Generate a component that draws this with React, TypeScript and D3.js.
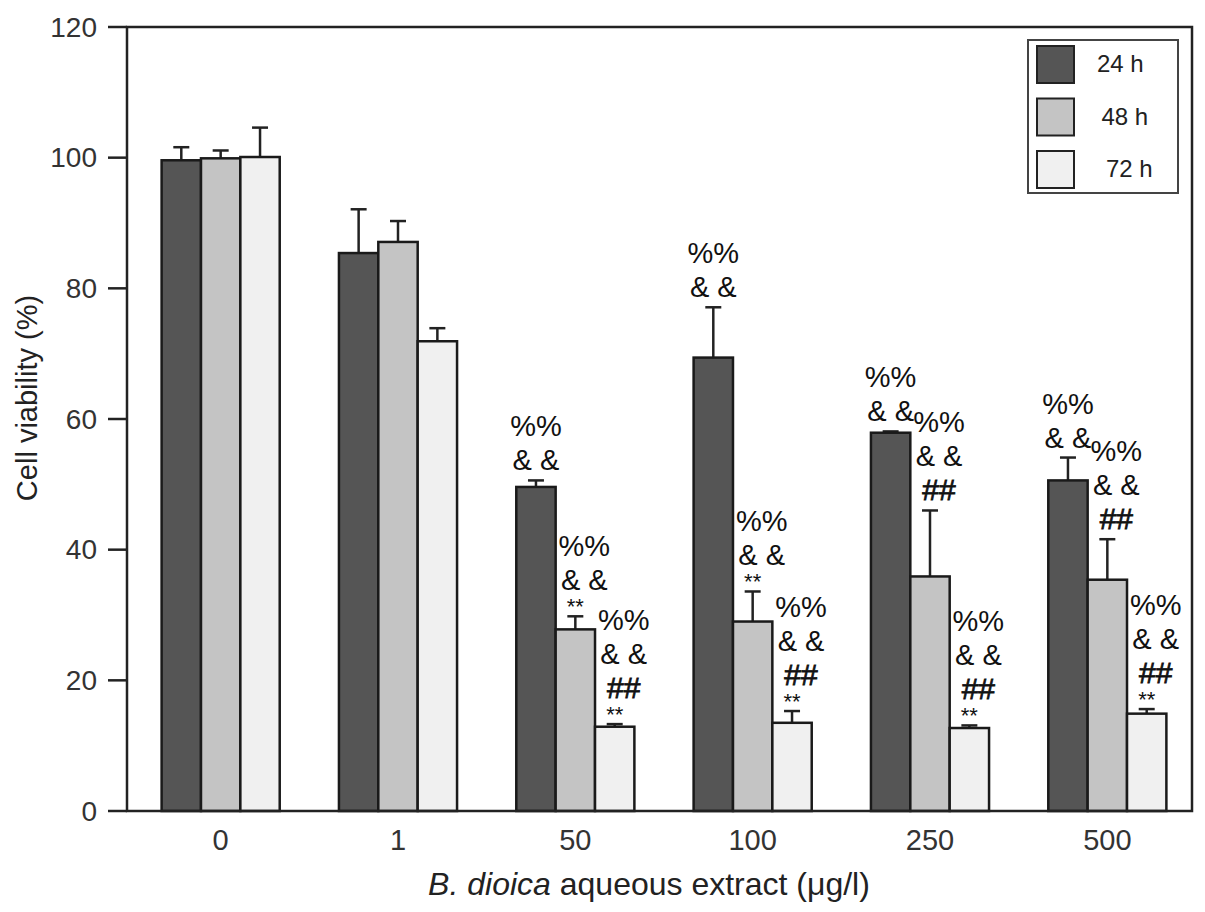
import React, { useEffect, useRef } from 'react';
import * as d3 from 'd3';

const concentrations = ['0', '1', '50', '100', '250', '500'];
const seriesNames = ['24 h', '48 h', '72 h'];
const viability24 = [99.6, 85.4, 49.6, 69.4, 57.9, 50.6];
const viability48 = [99.9, 87.1, 27.8, 29.0, 35.9, 35.4];
const viability72 = [100.1, 71.9, 12.9, 13.5, 12.7, 14.9];
const error24 = [2.0, 6.7, 1.0, 7.7, 0.2, 3.5];
const error48 = [1.2, 3.2, 2.0, 4.6, 10.1, 6.2];
const error72 = [4.5, 2.0, 0.4, 1.8, 0.4, 0.7];
const marks24 = [[], [], ['%%', '& &'], ['%%', '& &'], ['%%', '& &'], ['%%', '& &']];
const marks48 = [[], [], ['%%', '& &', '**'], ['%%', '& &', '**'], ['%%', '& &', '##'], ['%%', '& &', '##']];
const marks72 = [
  [], [],
  ['%%', '& &', '##', '**'], ['%%', '& &', '##', '**'],
  ['%%', '& &', '##', '**'], ['%%', '& &', '##', '**'],
];
const yTicks = [0, 20, 40, 60, 80, 100, 120];

const FONT = "'Liberation Sans', Arial, sans-serif";
const fills = ['#555555', '#c4c4c4', '#f0f0f0'];

export default function App() {
  const svgRef = useRef<SVGSVGElement>(null);

  useEffect(() => {
    if (!svgRef.current) return;
    const svg = d3.select(svgRef.current);
    svg.selectAll('*').remove();

    const left = 127, right = 1192, top = 27, bottom = 811;

    const x0 = d3.scaleBand().domain(concentrations).range([132, 1196]).paddingInner(0.334).paddingOuter(0.167);
    const x1 = d3.scaleBand().domain(seriesNames).range([0, x0.bandwidth()]);
    const y = d3.scaleLinear().domain([0, 120]).range([bottom, top]);

    const values = [viability24, viability48, viability72];
    const errors = [error24, error48, error72];
    const marks = [marks24, marks48, marks72];

    const rows = concentrations.flatMap((c, i) =>
      seriesNames.map((s, k) => ({ c, s, k, v: values[k][i], e: errors[k][i], m: marks[k][i] as string[] }))
    );

    // error bars first so the bar outline sits over them
    const eb = svg.append('g').attr('stroke', '#222').attr('stroke-width', 2.5);
    rows.forEach(d => {
      const cx = x0(d.c)! + x1(d.s)! + x1.bandwidth() / 2;
      eb.append('line').attr('x1', cx).attr('x2', cx).attr('y1', y(d.v)).attr('y2', y(d.v + d.e));
      eb.append('line').attr('x1', cx - 8).attr('x2', cx + 8).attr('y1', y(d.v + d.e)).attr('y2', y(d.v + d.e));
    });

    svg.append('g')
      .selectAll('rect')
      .data(rows)
      .enter()
      .append('rect')
      .attr('x', d => x0(d.c)! + x1(d.s)!)
      .attr('y', d => y(d.v))
      .attr('width', x1.bandwidth())
      .attr('height', d => y(0) - y(d.v))
      .attr('fill', d => fills[d.k])
      .attr('stroke', '#1a1a1a')
      .attr('stroke-width', 2.5);

    // significance marks stacked above each error cap
    const ann = svg.append('g').attr('font-family', FONT).attr('fill', '#111').attr('text-anchor', 'middle');
    rows.forEach(d => {
      if (!d.m.length) return;
      const cx = x0(d.c)! + x1(d.s)! + x1.bandwidth() / 2;
      const capY = y(d.v + d.e);
      let base = 0;
      let prevStar = false;
      for (let j = d.m.length - 1; j >= 0; j--) {
        const t = d.m[j];
        const star = t === '**';
        if (j === d.m.length - 1) base = star ? capY - 2 : capY - 10;
        else base = prevStar ? base - 24 : base - 34;
        const el = ann.append('text')
          .attr('x', star ? cx : cx + (d.k === 0 ? 0 : 9))
          .attr('y', base)
          .attr('font-size', star ? 22 : t === '##' ? 30 : 29)
          .text(t);
        if (t === '##') el.attr('stroke', '#111').attr('stroke-width', 0.8);
        prevStar = star;
      }
    });

    // frame
    svg.append('rect')
      .attr('x', left).attr('y', top)
      .attr('width', right - left).attr('height', bottom - top)
      .attr('fill', 'none').attr('stroke', '#222').attr('stroke-width', 2.5);

    // y axis ticks
    const yg = svg.append('g').attr('font-family', FONT).attr('font-size', 28).attr('fill', '#333');
    yTicks.forEach(t => {
      yg.append('line').attr('x1', 108).attr('x2', left).attr('y1', y(t)).attr('y2', y(t))
        .attr('stroke', '#222').attr('stroke-width', 2.5);
      yg.append('text').attr('x', 97).attr('y', y(t)).attr('dy', '0.35em')
        .attr('text-anchor', 'end').text(t);
    });

    // x labels
    const xg = svg.append('g').attr('font-family', FONT).attr('font-size', 29).attr('fill', '#333')
      .attr('text-anchor', 'middle');
    concentrations.forEach(c => {
      xg.append('text').attr('x', x0(c)! + x0.bandwidth() / 2).attr('y', 850).text(c);
    });

    const xt = svg.append('text')
      .attr('x', 649).attr('y', 895)
      .attr('font-family', FONT).attr('font-size', 32).attr('fill', '#222')
      .attr('text-anchor', 'middle');
    xt.append('tspan').attr('font-style', 'italic').text('B. dioica');
    xt.append('tspan').text(' aqueous extract (\u03bcg/l)');

    svg.append('text')
      .attr('transform', 'translate(37,398) rotate(-90)')
      .attr('font-family', FONT).attr('font-size', 29).attr('fill', '#222')
      .attr('text-anchor', 'middle')
      .text('Cell viability (%)');

    // legend
    const lg = svg.append('g');
    lg.append('rect').attr('x', 1028).attr('y', 40).attr('width', 150).attr('height', 153)
      .attr('fill', 'white').attr('stroke', '#444').attr('stroke-width', 2);
    seriesNames.forEach((s, k) => {
      lg.append('rect').attr('x', 1037).attr('y', 46 + k * 52.5).attr('width', 37).attr('height', 37)
        .attr('fill', fills[k]).attr('stroke', '#222').attr('stroke-width', 2);
      lg.append('text').attr('x', 1097 + k * 4.5).attr('y', 64 + k * 52.5).attr('dy', '0.35em')
        .attr('font-family', FONT).attr('font-size', 24).attr('fill', '#222').text(s);
    });
  }, []);

  return (
    <div style={{ position: 'absolute', left: 0, top: 0 }}>
      <svg ref={svgRef} width={1205} height={912} style={{ display: 'block', background: 'white' }} />
    </div>
  );
}
